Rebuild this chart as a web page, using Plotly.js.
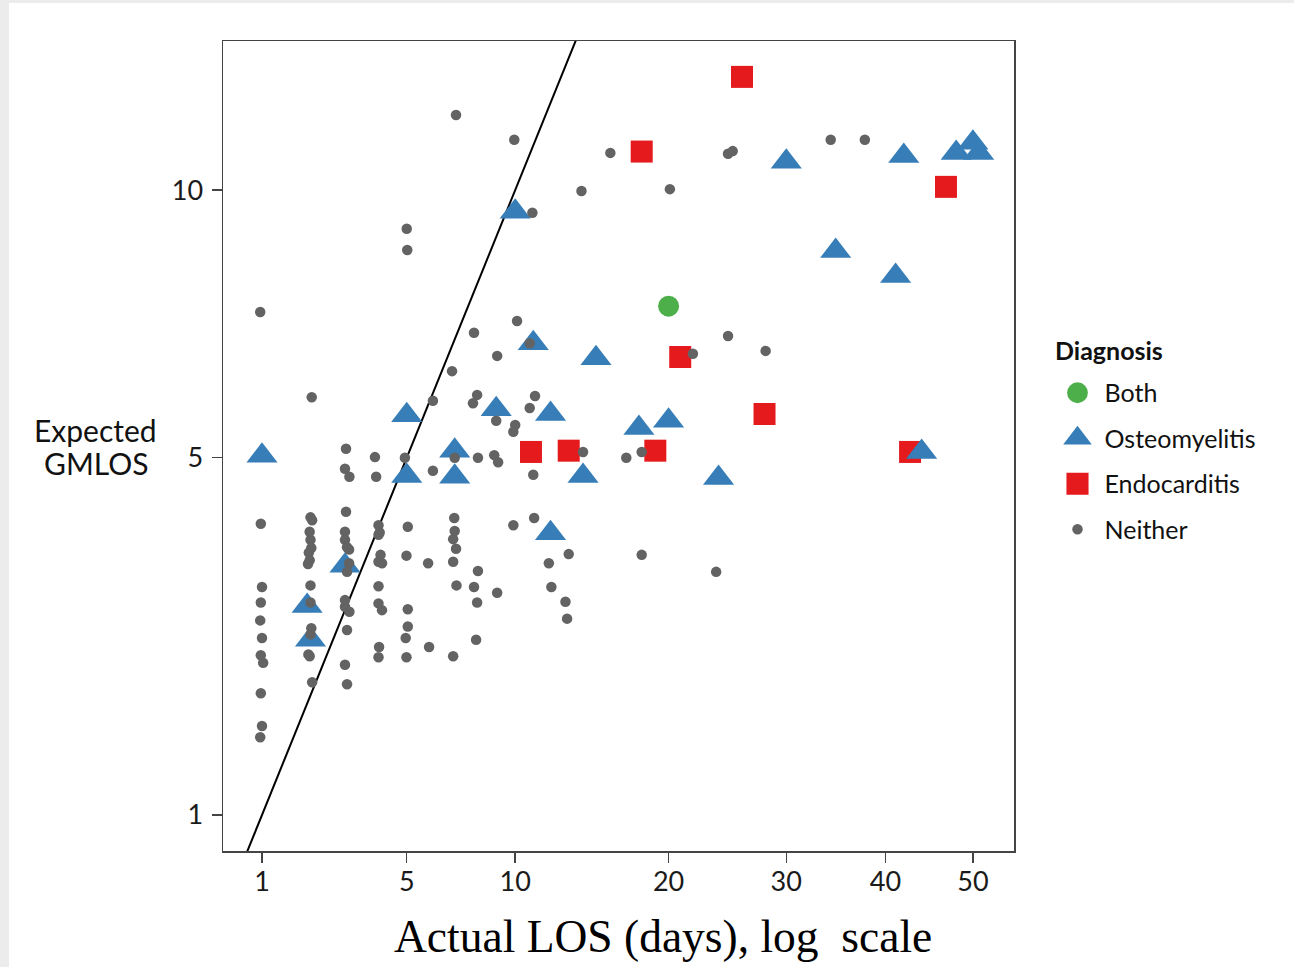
<!DOCTYPE html>
<html>
<head>
<meta charset="utf-8">
<script src="https://cdn.plot.ly/plotly-3.0.1.min.js"></script>
<style>
  html, body { margin: 0; padding: 0; background: #ececec; width: 1294px; height: 967px; overflow: hidden; }
  #chart { position: absolute; left: 9px; top: 3px; width: 1285px; height: 964px; background: #fff; }
</style>
</head>
<body>
<div id="chart"></div>
<script>
// Actual LOS (days) and expected GMLOS
const neitherX = [
  0.97, 0.98, 1.0, 0.98, 0.97, 1.0, 0.98, 1.02, 0.98, 1.0, 0.97,
  2.03, 2.0, 2.04, 1.98, 2.0, 2.02, 1.96, 1.98, 1.94, 2.0, 2.0, 2.02, 2.0, 1.95, 1.98, 2.04,
  2.95, 2.92, 3.05, 2.95, 2.92, 2.92, 2.98, 3.04, 3.04, 2.98, 2.92, 2.92, 3.05, 2.98, 2.92, 2.98,
  3.86, 3.9, 3.98, 4.02, 3.98, 4.05, 3.98, 4.1, 3.98, 3.98, 4.1, 4.0, 3.98,
  5.0, 5.02, 4.93, 5.04, 4.99, 5.04, 5.04, 4.96, 4.99,
  6.05, 6.05, 5.85, 5.89,
  7.06, 6.88, 7.0, 6.98, 7.0, 6.93, 7.06, 6.93, 7.08, 6.93,
  7.9, 8.05, 7.85, 8.09, 8.09, 7.9, 8.05, 8.0,
  9.05, 9.0, 8.9, 9.1, 9.05,
  9.95, 10.1, 10.0, 9.9, 9.9,
  10.95, 10.8, 11.1, 10.8, 11.0, 11.05,
  11.9, 12.05,
  13.1, 12.9, 13.0,
  14.0, 13.9,
  15.8, 16.9, 18.0, 18.0, 20.1, 21.9, 23.8,
  24.8, 24.8, 25.2, 28.1, 34.3, 37.8
];
const neitherY = [
  7.51, 4.03, 3.20, 3.01, 2.80, 2.60, 2.41, 2.33, 2.02, 1.71, 1.61,
  5.98, 4.12, 4.08, 3.92, 3.81, 3.70, 3.64, 3.54, 3.49, 3.22, 3.01, 2.71, 2.64, 2.42, 2.40, 2.13,
  5.14, 4.83, 4.71, 4.20, 3.92, 3.81, 3.71, 3.68, 3.50, 3.39, 3.04, 2.96, 2.90, 2.69, 2.31, 2.11,
  5.01, 4.71, 4.01, 3.91, 3.88, 3.61, 3.52, 3.50, 3.21, 3.00, 2.92, 2.50, 2.39,
  9.17, 8.73, 5.00, 3.99, 3.60, 2.93, 2.73, 2.60, 2.39,
  5.92, 4.80, 3.50, 2.50,
  11.71, 6.43, 5.00, 4.11, 3.93, 3.82, 3.69, 3.52, 3.22, 2.40,
  7.12, 6.02, 5.88, 5.00, 3.40, 3.20, 3.01, 2.58,
  6.70, 5.59, 5.04, 4.93, 3.13,
  11.13, 7.34, 5.52, 5.41, 4.01,
  9.51, 6.93, 6.00, 5.80, 4.74, 4.11,
  3.50, 3.20,
  3.62, 3.02, 2.82,
  5.09, 9.98,
  10.83, 5.00, 5.09, 3.61, 10.02, 6.74, 3.39,
  10.81, 7.06, 10.87, 6.79, 11.13, 11.13
];
const osteoX = [1.0, 1.92, 2.0, 2.92, 5.0, 5.0, 7.0, 7.0, 9.0, 10.0, 11.0, 12.0, 12.0, 14.0, 14.84, 17.8, 20.0, 24.0, 30.0, 34.8, 41.1, 42.0, 44.0, 48.0, 50.0, 50.7];
const osteoY = [5.03, 2.97, 2.58, 3.47, 5.68, 4.72, 4.71, 5.11, 5.78, 9.53, 6.93, 5.70, 3.90, 4.72, 6.66, 5.47, 5.59, 4.69, 10.63, 8.71, 8.21, 10.76, 5.09, 10.83, 11.06, 10.83];
const endoX = [10.87, 13.1, 18.0, 19.0, 20.9, 26.0, 28.0, 42.7, 46.8];
const endoY = [5.09, 5.11, 10.86, 5.11, 6.68, 12.63, 5.70, 5.09, 10.07];
const bothX = [20.0];
const bothY = [7.62];
const refLine = [0.5, 14];   // identity line: expected = actual
const xTicks = [1, 5, 10, 20, 30, 40, 50];
const yTicks = [1, 5, 10];
const legendNames = ['Both', 'Osteomyelitis', 'Endocarditis', 'Neither'];

const sq = a => a.map(Math.sqrt);   // square-root scale on both axes

const traces = [
  { x: sq(refLine), y: sq(refLine), mode: 'lines', type: 'scatter', showlegend: false,
    line: { color: '#000', width: 2 }, hoverinfo: 'skip' },
  { x: sq(endoX), y: sq(endoY), name: legendNames[2], mode: 'markers', type: 'scatter',
    legendrank: 3, legendgroup: 'e',
    marker: { symbol: 'square', size: 22, color: '#e41a1c' } },
  { x: sq(osteoX), y: sq(osteoY), name: legendNames[1], mode: 'markers', type: 'scatter',
    legendrank: 2, legendgroup: 'o',
    marker: { symbol: 'triangle-up', size: 27, color: '#377eb8' } },
  { x: sq(neitherX), y: sq(neitherY), name: legendNames[3], mode: 'markers', type: 'scatter',
    legendrank: 4, legendgroup: 'n',
    marker: { symbol: 'circle', size: 10.5, color: '#636363' } },
  { x: sq(bothX), y: sq(bothY), name: legendNames[0], mode: 'markers', type: 'scatter',
    legendrank: 1, legendgroup: 'b',
    marker: { symbol: 'circle', size: 21, color: '#4daf4a' } }
];

const tickFont = { family: 'Lato, "Open Sans", sans-serif', size: 27, color: '#1a1a1a' };
const titleFont = { family: 'Lato, sans-serif', size: 30, color: '#111' };

const layout = {
  width: 1285, height: 964,
  margin: { l: 214, r: 280, t: 38, b: 116 },
  paper_bgcolor: '#ffffff', plot_bgcolor: '#ffffff',
  showlegend: true,
  xaxis: {
    range: [0.667, 7.422], showgrid: false, zeroline: false,
    showline: true, mirror: true, linecolor: '#444', linewidth: 1.5,
    ticks: 'outside', ticklen: 10, tickwidth: 1.5, tickcolor: '#444',
    ticklabelstandoff: -4,
    tickvals: sq(xTicks), ticktext: xTicks.map(String), tickfont: tickFont
  },
  yaxis: {
    range: [0.8754, 3.678], showgrid: false, zeroline: false,
    showline: true, mirror: true, linecolor: '#444', linewidth: 1.5,
    ticks: 'outside', ticklen: 10, tickwidth: 1.5, tickcolor: '#444',
    ticklabelstandoff: 3,
    tickvals: sq(yTicks), ticktext: yTicks.map(String), tickfont: tickFont
  },
  legend: {
    xref: 'container', yref: 'container', x: 0.8105, y: 0.6193,
    xanchor: 'left', yanchor: 'top',
    traceorder: 'grouped', tracegroupgap: 10, itemwidth: 44,
    font: { family: 'Lato, sans-serif', size: 25, color: '#111' },
    bgcolor: 'rgba(0,0,0,0)'
  },
  annotations: [
    { xref: 'paper', yref: 'paper', x: 1.0493, y: 0.6185, xanchor: 'left', yanchor: 'middle',
      showarrow: false, text: '<b>Diagnosis</b>',
      font: { family: 'Lato, sans-serif', size: 25, color: '#111' } },
    { xref: 'paper', yref: 'paper', x: -0.1606, y: 0.5198, xanchor: 'center', yanchor: 'middle',
      showarrow: false, text: 'Expected', font: titleFont },
    { xref: 'paper', yref: 'paper', x: -0.1606, y: 0.479, xanchor: 'center', yanchor: 'middle',
      showarrow: false, text: 'GMLOS', font: titleFont },
    { xref: 'paper', yref: 'paper', x: 0.556, y: -0.106, xanchor: 'center', yanchor: 'middle',
      showarrow: false, text: 'Actual LOS (days), log\u00a0 scale',
      font: { family: '"Liberation Serif", "DejaVu Serif", serif', size: 45.5, color: '#000' } }
  ]
};

// legend symbols in the reference are drawn at the same size as the plotted marks;
// Plotly caps legend marker size at 16 px, so enlarge them after drawing
const legendScale = { 'Both': 1.3, 'Osteomyelitis': 1.55, 'Endocarditis': 1.38, 'Neither': 1.0 };

Plotly.newPlot('chart', traces, layout, { displayModeBar: false, staticPlot: true }).then(function (gd) {
  gd.querySelectorAll('.legend .traces').forEach(function (g, i) {
    var d = g.__data__;
    var name = null;
    try { name = d[0].trace.name; } catch (e) {}
    if (!name) { try { name = d[0][0].trace.name; } catch (e) {} }
    if (!name) name = legendNames[i];
    var k = legendScale[name] || 1;
    g.querySelectorAll('.legendpoints path').forEach(function (p) {
      var t = p.getAttribute('transform') || '';
      p.setAttribute('transform', t + ' scale(' + k + ')');
    });
  });
});
</script>
</body>
</html>
